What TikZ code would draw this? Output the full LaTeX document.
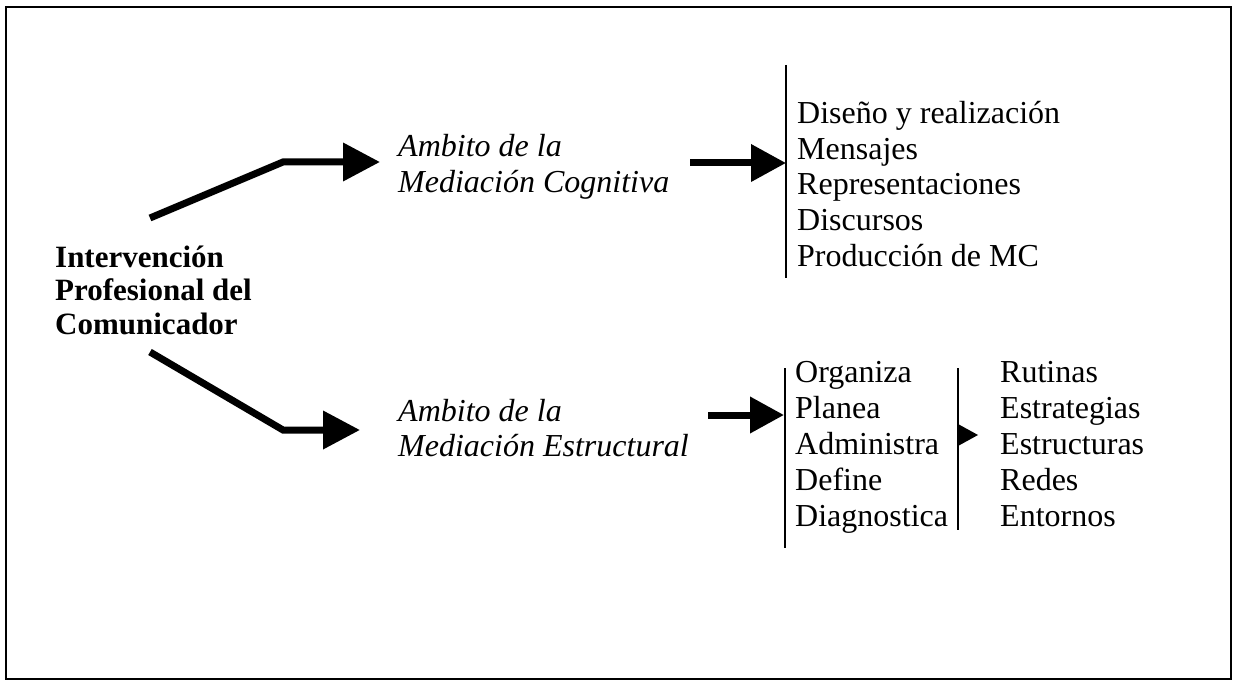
\documentclass[tikz,border=0pt]{standalone}
\usepackage{fontspec}
\setmainfont{Liberation Serif}
\usetikzlibrary{arrows.meta}
\begin{document}
\begin{tikzpicture}[x=1pt,y=-1pt,
  txt/.style={anchor=base west,inner sep=0pt,font=\fontsize{32}{35}\selectfont},
  itx/.style={txt,font=\fontsize{32}{35}\selectfont\itshape},
  bld/.style={txt,font=\fontsize{31}{34}\selectfont\bfseries},
  bigarrow/.style={line width=7pt,line join=miter,-{Triangle[length=37pt,width=37pt]}},
  bar/.style={line width=2pt}]
\useasboundingbox (0,0) rectangle (1235,682);
\draw[line width=2pt] (6,7) rectangle (1231,679);

% left title
\node[bld] (t1) at (55,267) {Intervención};
\node[bld] (t2) at (55,300) {Profesional del};
\node[bld] (t3) at (55,334) {Comunicador};

% middle labels
\node[itx] (c1) at (398,157) {Ambito de la};
\node[itx] (c2) at (398,193) {Mediación Cognitiva};
\node[itx] (e1) at (398,421) {Ambito de la};
\node[itx] (e2) at (398,456) {Mediación Estructural};

% lists
\foreach \t [count=\i] in {Diseño y realización,Mensajes,Representaciones,Discursos,Producción de MC}
  \node[txt] (la\i) at (797,{124+35.5*(\i-1)}) {\t};
\foreach \t [count=\i] in {Organiza,Planea,Administra,Define,Diagnostica}
  \node[txt] (lb\i) at (795,{382+36.2*(\i-1)}) {\t};
\foreach \t [count=\i] in {Rutinas,Estrategias,Estructuras,Redes,Entornos}
  \node[txt] (lc\i) at (1000,{382+36.2*(\i-1)}) {\t};

% bars
\coordinate (b1t) at (786,65);  \coordinate (b1b) at (786,278);
\coordinate (b2t) at (785,368); \coordinate (b2b) at (785,548);
\coordinate (b3t) at (958,368); \coordinate (b3b) at (958,530);
\draw[bar] (b1t) -- (b1b);
\draw[bar] (b2t) -- (b2b);
\draw[bar] (b3t) -- (b3b);

% arrows from title
\coordinate (s1) at (150,218); \coordinate (k1) at (283,162); \coordinate (h1) at (380,162);
\coordinate (s2) at (150,352); \coordinate (k2) at (283,430); \coordinate (h2) at (360,430);
\draw[bigarrow] (s1) -- (k1) -- (h1);
\draw[bigarrow] (s2) -- (k2) -- (h2);

% arrows to lists
\coordinate (r1) at (690,163); \coordinate (r1e) at (786,163);
\coordinate (r2) at (708,415); \coordinate (r2e) at (784,415);
\draw[line width=7pt,-{Triangle[length=35pt,width=36pt]}] (r1) -- (r1e);
\draw[line width=7pt,-{Triangle[length=34pt,width=35pt]}] (r2) -- (r2e);

% small arrowhead on third bar
\coordinate (sm) at (958,435);
\fill (958,424) -- (978,435) -- (958,446) -- cycle;
\end{tikzpicture}
\end{document}
